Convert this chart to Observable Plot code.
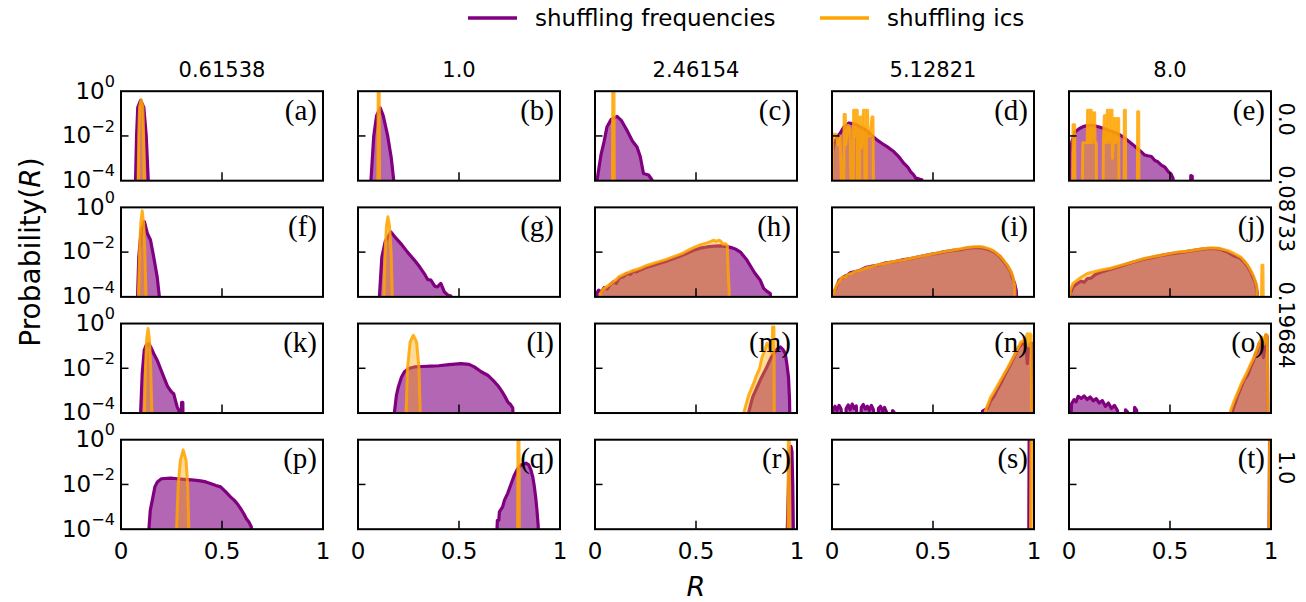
<!DOCTYPE html>
<html><head><meta charset="utf-8">
<script src="https://cdn.jsdelivr.net/npm/d3@7"></script>
<script src="https://cdn.jsdelivr.net/npm/@observablehq/plot@0.6"></script>
<style>
html,body{margin:0;padding:0;background:#fff;overflow:hidden;}
#wrap{position:relative;width:1306px;height:602px;font-family:"DejaVu Sans",sans-serif;}
#wrap svg{display:block;}
</style></head><body><div id="wrap"></div>
<script>
const colLabels = ["0.61538", "1.0", "2.46154", "5.12821", "8.0"];
const rowLabels = ["0.0", "0.08733", "0.19684", "1.0"];
const panelLetters = ["(a)","(b)","(c)","(d)","(e)","(f)","(g)","(h)","(i)","(j)","(k)","(l)","(m)","(n)","(o)","(p)","(q)","(r)","(s)","(t)"];
const xTicks = [0, 0.5, 1];
const yTicks = [1, 1e-2, 1e-4];
const seriesNames = ["shuffling frequencies", "shuffling ics"];
const seriesColors = ["#800080", "#FFA500"];

// [R, probability] pairs
const freq_a = [[0.068,1e-5],[0.072,1e-4],[0.077,1e-2],[0.083,0.19],[0.097,0.39],[0.113,0.19],[0.125,1e-2],[0.135,1e-4],[0.139,1e-5]];
const ics_a = [[0.082,1e-5],[0.085,1e-4],[0.088,1e-2],[0.092,0.2],[0.1,0.42],[0.108,0.2],[0.112,1e-2],[0.116,1e-4],[0.119,1e-5]];
const freq_b = [[0.06,1e-5],[0.064,1e-4],[0.078,1e-2],[0.092,0.08],[0.11,0.18],[0.125,0.08],[0.147,1e-2],[0.165,1e-3],[0.177,1e-4],[0.18,1e-5]];
const ics_b = [[0.098,1e-5],[0.1,1.5],[0.105,1.5],[0.107,1e-5]];
const freq_c = [[0.005,1e-5],[0.01,1e-4],[0.02,4e-4],[0.03,1.5e-3],[0.043,4.6e-3],[0.059,2.5e-2],[0.08,5.5e-2],[0.109,7.5e-2],[0.13,5e-2],[0.158,1.8e-2],[0.185,6e-3],[0.208,3.2e-3],[0.224,1.2e-3],[0.24,2.1e-4],[0.265,1.8e-4],[0.282,1.1e-4],[0.29,1e-5]];
const ics_c = [[0.086,1e-5],[0.088,1.5],[0.094,1.5],[0.096,1e-5]];
const freq_d = [[0.001,1e-5],[0.003,2e-3],[0.01,4.6e-3],[0.025,9e-3],[0.04,1.3e-2],[0.06,2.6e-2],[0.084,3.8e-2],[0.1,3.6e-2],[0.12,3.2e-2],[0.142,2.5e-2],[0.17,1.8e-2],[0.2,1e-2],[0.224,6.5e-3],[0.25,4.5e-3],[0.28,3e-3],[0.307,1.95e-3],[0.33,1.2e-3],[0.356,5.9e-4],[0.375,4e-4],[0.39,2.5e-4],[0.405,1.8e-4],[0.414,1.3e-4],[0.43,1.2e-4],[0.445,1.1e-4],[0.455,1e-5]];
const ics_d = [[0.0,1e-5],[0.004,1.2e-2],[0.02,1.2e-2],[0.03,4e-3],[0.04,1e-2],[0.05,1e-5],[0.058,1e-5],[0.06,0.09],[0.066,0.09],[0.068,4e-3],[0.08,3e-2],[0.09,2e-2],[0.095,1e-5],[0.105,1e-5],[0.107,0.14],[0.112,0.14],[0.114,1e-2],[0.12,0.14],[0.125,0.14],[0.127,1e-5],[0.135,1e-5],[0.137,0.07],[0.142,0.07],[0.146,3e-3],[0.156,0.14],[0.161,0.14],[0.164,1e-5],[0.169,1e-5],[0.171,0.14],[0.176,0.14],[0.179,1e-2],[0.19,1e-2],[0.198,0.07],[0.203,0.07],[0.206,1e-5]];
const freq_e = [[0.002,1e-5],[0.005,2e-3],[0.015,6e-3],[0.03,1.5e-2],[0.05,2.1e-2],[0.07,2.6e-2],[0.09,2.9e-2],[0.111,3e-2],[0.13,2.8e-2],[0.15,2.5e-2],[0.177,2.1e-2],[0.2,1.7e-2],[0.22,1.5e-2],[0.243,1.25e-2],[0.26,1e-2],[0.28,7.5e-3],[0.309,4.6e-3],[0.33,3.2e-3],[0.345,2.4e-3],[0.358,1.95e-3],[0.375,1.4e-3],[0.39,1.3e-3],[0.408,1.2e-3],[0.425,8e-4],[0.44,7e-4],[0.457,5e-4],[0.475,4e-4],[0.492,2.5e-4],[0.505,2e-4],[0.515,1.3e-4],[0.52,1e-5],[0.6,1e-5],[0.603,1.7e-4],[0.61,1.6e-4],[0.612,1e-5]];
const ics_e = [[0.018,1e-5],[0.02,0.032],[0.028,0.032],[0.03,1e-5],[0.065,1e-5],[0.068,5e-3],[0.09,5e-3],[0.092,0.14],[0.097,0.14],[0.099,5e-3],[0.105,0.14],[0.11,0.14],[0.112,5e-3],[0.122,0.11],[0.127,0.11],[0.129,5e-3],[0.135,5e-3],[0.137,1e-5],[0.168,1e-5],[0.17,5e-3],[0.175,0.08],[0.18,0.08],[0.182,5e-3],[0.19,0.14],[0.196,0.14],[0.198,5e-3],[0.207,0.14],[0.213,0.14],[0.215,1e-3],[0.223,0.06],[0.229,0.06],[0.231,5e-3],[0.24,0.06],[0.246,0.06],[0.248,1e-5],[0.272,1e-5],[0.274,0.14],[0.279,0.14],[0.281,1e-5],[0.338,1e-5],[0.34,0.12],[0.345,0.12],[0.347,1e-5]];
const freq_f = [[0.078,1e-5],[0.082,1e-4],[0.088,6e-3],[0.1,0.1],[0.116,0.23],[0.13,0.07],[0.146,0.035],[0.162,6e-3],[0.179,8e-4],[0.19,1e-4],[0.192,1e-5]];
const ics_f = [[0.083,1e-5],[0.086,1e-4],[0.092,1e-2],[0.098,0.2],[0.105,0.7],[0.112,0.2],[0.118,1e-2],[0.124,1e-4],[0.127,1e-5]];
const freq_g = [[0.1,1e-5],[0.106,1e-4],[0.118,6e-3],[0.135,3e-2],[0.163,8e-2],[0.19,4e-2],[0.212,2.4e-2],[0.245,1e-2],[0.279,4.4e-3],[0.305,2.2e-3],[0.328,1.1e-3],[0.345,6e-4],[0.361,5.6e-4],[0.38,3e-4],[0.393,2.8e-4],[0.41,4e-4],[0.427,1.7e-4],[0.445,1.2e-4],[0.46,1.1e-4],[0.465,1e-5]];
const ics_g = [[0.124,1e-5],[0.128,1e-4],[0.134,1e-2],[0.141,0.15],[0.148,0.38],[0.156,0.15],[0.164,1e-2],[0.17,1e-4],[0.174,1e-5]];
const freq_h = [[0.005,1e-5],[0.01,1.5e-4],[0.018,2e-4],[0.03,1.6e-4],[0.045,2.6e-4],[0.06,2.2e-4],[0.075,3.5e-4],[0.092,4.7e-4],[0.105,4e-4],[0.12,7e-4],[0.14,8e-4],[0.158,1.1e-3],[0.175,1e-3],[0.19,1.4e-3],[0.205,1.3e-3],[0.224,1.6e-3],[0.25,2e-3],[0.27,2.3e-3],[0.29,2.6e-3],[0.32,3.2e-3],[0.35,3.8e-3],[0.389,5.2e-3],[0.42,6.5e-3],[0.45,8.5e-3],[0.488,1.2e-2],[0.52,1.5e-2],[0.554,1.7e-2],[0.59,1.85e-2],[0.62,1.9e-2],[0.654,1.75e-2],[0.68,1.55e-2],[0.7,1.3e-2],[0.72,1e-2],[0.752,4.4e-3],[0.775,2e-3],[0.79,1.2e-3],[0.805,8e-4],[0.818,5.6e-4],[0.835,2.4e-4],[0.85,1.8e-4],[0.868,1.4e-4],[0.872,1e-5]];
const ics_h = [[0.02,1e-5],[0.026,1.4e-4],[0.04,2.2e-4],[0.06,3e-4],[0.08,4e-4],[0.1,5.5e-4],[0.12,8e-4],[0.15,1.1e-3],[0.18,1.4e-3],[0.224,1.9e-3],[0.26,2.6e-3],[0.3,3.4e-3],[0.35,4.6e-3],[0.389,6.3e-3],[0.43,8.5e-3],[0.46,1.2e-2],[0.488,1.6e-2],[0.52,2.1e-2],[0.554,2.6e-2],[0.57,2.9e-2],[0.587,3.4e-2],[0.6,3e-2],[0.615,3.4e-2],[0.625,2.9e-2],[0.635,2.2e-2],[0.645,2.4e-2],[0.655,2e-2],[0.66,1e-3],[0.664,2e-4],[0.667,1e-5]];
const freq_i = [[0.003,1e-5],[0.006,1.5e-4],[0.02,2.5e-4],[0.035,5.6e-4],[0.05,7e-4],[0.065,8.5e-4],[0.076,9.3e-4],[0.09,1.2e-3],[0.11,1.3e-3],[0.142,1.6e-3],[0.17,2.1e-3],[0.2,2.4e-3],[0.224,2.6e-3],[0.26,3.2e-3],[0.307,3.7e-3],[0.35,4.5e-3],[0.39,5.2e-3],[0.43,6.2e-3],[0.472,7.4e-3],[0.51,8.5e-3],[0.554,1.02e-2],[0.6,1.2e-2],[0.637,1.3e-2],[0.67,1.5e-2],[0.703,1.6e-2],[0.73,1.6e-2],[0.752,1.5e-2],[0.78,1.25e-2],[0.802,1.02e-2],[0.83,6.5e-3],[0.851,3.7e-3],[0.87,2.2e-3],[0.885,1.3e-3],[0.896,6e-4],[0.904,4e-4],[0.912,2e-4],[0.918,1e-5]];
const ics_i = [[0.003,1e-5],[0.006,1.3e-4],[0.02,3e-4],[0.035,5e-4],[0.05,7.5e-4],[0.065,8e-4],[0.08,1e-3],[0.1,1.15e-3],[0.12,1.4e-3],[0.142,1.55e-3],[0.17,2e-3],[0.2,2.3e-3],[0.224,2.7e-3],[0.26,3.1e-3],[0.307,3.8e-3],[0.35,4.4e-3],[0.39,5.3e-3],[0.43,6.3e-3],[0.472,7.5e-3],[0.51,8.8e-3],[0.554,1.05e-2],[0.6,1.25e-2],[0.637,1.4e-2],[0.67,1.6e-2],[0.703,1.75e-2],[0.73,1.8e-2],[0.752,1.65e-2],[0.78,1.4e-2],[0.802,1.1e-2],[0.83,7e-3],[0.851,4.2e-3],[0.87,2.5e-3],[0.885,1.4e-3],[0.896,8e-4],[0.905,3e-4],[0.91,1e-5]];
const freq_j = [[0.003,1e-5],[0.008,1.5e-4],[0.02,2.8e-4],[0.041,4e-4],[0.06,5e-4],[0.075,4.5e-4],[0.091,6.5e-4],[0.11,7e-4],[0.13,1e-3],[0.16,1.3e-3],[0.206,1.7e-3],[0.25,2.3e-3],[0.3,3.2e-3],[0.33,3.8e-3],[0.371,4.8e-3],[0.42,6e-3],[0.46,7.2e-3],[0.5,8.3e-3],[0.537,9.3e-3],[0.58,1.05e-2],[0.62,1.2e-2],[0.66,1.35e-2],[0.701,1.45e-2],[0.74,1.4e-2],[0.784,1.02e-2],[0.82,6.5e-3],[0.845,5.5e-3],[0.866,3.7e-3],[0.885,2.2e-3],[0.9,1.3e-3],[0.912,7e-4],[0.924,4e-4],[0.932,1.5e-4],[0.936,1e-5]];
const ics_j = [[0.003,1e-5],[0.006,2e-4],[0.02,4e-4],[0.041,5.6e-4],[0.06,7.5e-4],[0.091,1.1e-3],[0.12,1.3e-3],[0.16,1.6e-3],[0.206,1.9e-3],[0.25,2.5e-3],[0.3,3.3e-3],[0.371,5.2e-3],[0.42,6.4e-3],[0.46,7.5e-3],[0.5,8.8e-3],[0.537,1e-2],[0.58,1.1e-2],[0.62,1.25e-2],[0.66,1.4e-2],[0.701,1.55e-2],[0.74,1.5e-2],[0.784,1.2e-2],[0.82,8.5e-3],[0.85,6e-3],[0.866,4.2e-3],[0.885,2.6e-3],[0.9,1.5e-3],[0.915,8e-4],[0.93,3e-4],[0.938,1e-5],[0.952,1e-5],[0.955,2.6e-3],[0.96,2.6e-3],[0.963,1e-5]];
const freq_k = [[0.094,1e-5],[0.097,1e-4],[0.105,5.8e-3],[0.115,6.5e-2],[0.125,0.11],[0.138,0.126],[0.15,0.08],[0.165,4e-2],[0.179,2.3e-2],[0.195,1e-2],[0.212,4e-3],[0.23,1.6e-3],[0.245,1e-3],[0.255,8e-4],[0.261,7.4e-4],[0.27,3.5e-4],[0.278,1.9e-4],[0.29,1.1e-4],[0.295,1e-5],[0.3,3e-4],[0.306,3e-4],[0.308,1e-5]];
const ics_k = [[0.113,1e-5],[0.116,1e-4],[0.121,1e-2],[0.127,0.2],[0.134,0.6],[0.141,0.2],[0.147,1e-2],[0.153,1e-4],[0.157,1e-5]];
const freq_l = [[0.175,1e-5],[0.18,1e-4],[0.19,6e-4],[0.2,1.5e-3],[0.215,4e-3],[0.23,7e-3],[0.25,9.7e-3],[0.28,1.15e-2],[0.32,1.2e-2],[0.36,1.25e-2],[0.4,1.3e-2],[0.45,1.45e-2],[0.51,1.6e-2],[0.55,1.5e-2],[0.576,1.15e-2],[0.61,7e-3],[0.642,4.9e-3],[0.67,2.8e-3],[0.692,1.7e-3],[0.71,1e-3],[0.725,6e-4],[0.742,3.1e-4],[0.755,2.4e-4],[0.766,1.7e-4],[0.772,1e-5]];
const ics_l = [[0.234,1e-5],[0.238,1e-4],[0.245,1e-2],[0.258,0.15],[0.274,0.3],[0.29,0.15],[0.302,1e-2],[0.308,1e-4],[0.312,1e-5]];
const freq_m = [[0.755,1e-5],[0.76,1e-4],[0.78,5e-4],[0.802,1.4e-3],[0.825,4e-3],[0.851,1.15e-2],[0.87,2.8e-2],[0.884,4.6e-2],[0.9,7e-2],[0.917,9e-2],[0.93,7e-2],[0.942,4.6e-2],[0.95,1.5e-2],[0.958,4e-3],[0.963,4e-4],[0.966,1e-5]];
const ics_m = [[0.733,1e-5],[0.736,1e-4],[0.76,6e-4],[0.785,2.1e-3],[0.8,5e-3],[0.815,1e-2],[0.827,3.2e-2],[0.84,6e-2],[0.851,0.13],[0.86,0.1],[0.866,0.08],[0.872,0.05],[0.877,0.05],[0.879,0.7],[0.886,0.7],[0.888,1e-5]];
const freq_n = [[0.0,1e-5],[0.005,1.4e-4],[0.015,2e-4],[0.025,1.3e-4],[0.035,2.2e-4],[0.045,1.5e-4],[0.055,1e-5],[0.065,1e-5],[0.07,1.6e-4],[0.08,2.3e-4],[0.09,1.4e-4],[0.1,2.5e-4],[0.11,1.6e-4],[0.12,2.1e-4],[0.13,1e-5],[0.14,1e-5],[0.145,1.8e-4],[0.155,2.4e-4],[0.165,1.5e-4],[0.175,2e-4],[0.185,1.3e-4],[0.195,2.2e-4],[0.205,1.4e-4],[0.215,1e-5],[0.225,1e-5],[0.23,1.6e-4],[0.24,2e-4],[0.25,1.2e-4],[0.26,1.8e-4],[0.27,1.1e-4],[0.28,1e-5],[0.295,1e-5],[0.3,1.3e-4],[0.307,1.1e-4],[0.31,1e-5],[0.73,1e-5],[0.745,1.2e-4],[0.769,1.6e-4],[0.785,3.5e-4],[0.802,5.6e-4],[0.82,1.2e-3],[0.835,2.1e-3],[0.85,4e-3],[0.868,8.1e-3],[0.885,1.6e-2],[0.901,3.2e-2],[0.915,6e-2],[0.926,8.9e-2],[0.94,0.12],[0.95,0.15],[0.96,0.08],[0.967,1.6e-2],[0.975,0.1],[0.985,0.13],[0.993,0.13],[0.997,1e-5]];
const ics_n = [[0.74,1e-5],[0.76,1.3e-4],[0.785,5e-4],[0.802,9e-4],[0.835,3e-3],[0.868,1e-2],[0.901,3.6e-2],[0.92,8e-2],[0.935,0.15],[0.95,0.17],[0.96,0.22],[0.967,0.35],[0.972,0.1],[0.98,0.35],[0.986,0.3],[0.989,1e-5]];
const freq_o = [[0.008,1e-5],[0.012,2.5e-4],[0.025,4e-4],[0.035,3.2e-4],[0.045,5.6e-4],[0.06,4.5e-4],[0.075,5.8e-4],[0.09,4e-4],[0.105,5.2e-4],[0.12,3.5e-4],[0.135,4.4e-4],[0.15,2.8e-4],[0.165,3.6e-4],[0.18,2e-4],[0.195,2.8e-4],[0.21,1.6e-4],[0.225,2.2e-4],[0.24,1.3e-4],[0.25,1e-5],[0.27,1e-5],[0.28,1.4e-4],[0.29,1.1e-4],[0.3,1e-5],[0.32,1e-5],[0.325,1.8e-4],[0.335,1.3e-4],[0.34,1e-5],[0.795,1e-5],[0.81,1.3e-4],[0.834,5.6e-4],[0.85,1.3e-3],[0.866,2.9e-3],[0.885,5e-3],[0.9,1.2e-2],[0.912,2e-2],[0.924,4.6e-2],[0.932,6e-2],[0.941,0.125],[0.957,0.18],[0.962,0.03],[0.968,0.08],[0.975,0.3],[0.982,0.25],[0.985,1e-5]];
const ics_o = [[0.79,1e-5],[0.8,1.3e-4],[0.82,4e-4],[0.834,8e-4],[0.85,1.8e-3],[0.866,3.5e-3],[0.885,8e-3],[0.9,1.6e-2],[0.915,3e-2],[0.93,7e-2],[0.941,0.13],[0.95,0.2],[0.957,0.25],[0.965,0.12],[0.975,0.33],[0.982,0.3],[0.985,1e-5]];
const freq_p = [[0.134,1e-5],[0.138,1e-4],[0.145,7e-4],[0.155,2e-3],[0.168,8e-3],[0.18,1.3e-2],[0.2,1.8e-2],[0.245,1.9e-2],[0.28,1.8e-2],[0.311,1.7e-2],[0.35,1.6e-2],[0.394,1.45e-2],[0.42,1.3e-2],[0.443,1.1e-2],[0.47,9e-3],[0.493,7.8e-3],[0.515,5e-3],[0.542,2.8e-3],[0.56,2e-3],[0.575,1.4e-3],[0.59,9e-4],[0.608,4.9e-4],[0.62,3e-4],[0.633,2.1e-4],[0.645,1.3e-4],[0.652,1e-5]];
const ics_p = [[0.27,1e-5],[0.275,1e-4],[0.283,1e-2],[0.294,0.12],[0.308,0.35],[0.322,0.12],[0.33,1e-2],[0.336,1e-4],[0.34,1e-5]];
const freq_q = [[0.684,1e-5],[0.688,1e-4],[0.69,2.5e-4],[0.697,2.5e-4],[0.7,6e-4],[0.716,1e-3],[0.725,2e-3],[0.741,4e-3],[0.76,1.2e-2],[0.774,2.6e-2],[0.79,5e-2],[0.807,7.4e-2],[0.832,8.9e-2],[0.845,7.5e-2],[0.856,4.5e-2],[0.866,2e-2],[0.873,8e-3],[0.88,2.5e-3],[0.886,7e-4],[0.892,1.5e-4],[0.895,1e-5]];
const ics_q = [[0.79,1e-5],[0.792,1.5],[0.797,1.5],[0.799,1e-5]];
const freq_r = [[0.948,1e-5],[0.952,1e-4],[0.958,1e-2],[0.965,0.3],[0.97,0.5],[0.975,0.3],[0.979,1e-2],[0.982,1e-4],[0.985,1e-5]];
const ics_r = [[0.955,1e-5],[0.957,1.5],[0.962,1.5],[0.964,1e-5]];
const freq_s = [[0.974,1e-5],[0.976,1.2],[0.978,1.2],[0.98,1e-5]];
const ics_s = [[0.982,1e-5],[0.985,1.5],[0.998,1.5],[1.0,1e-5]];
const freq_t = [[0.99,1e-5],[0.993,1.2],[0.997,1.2],[0.999,1e-5]];
const ics_t = [[0.99,1e-5],[0.993,1.5],[0.999,1.5],[1.0,1e-5]];

const freqSeries = [freq_a,freq_b,freq_c,freq_d,freq_e,freq_f,freq_g,freq_h,freq_i,freq_j,freq_k,freq_l,freq_m,freq_n,freq_o,freq_p,freq_q,freq_r,freq_s,freq_t];
const icsSeries = [ics_a,ics_b,ics_c,ics_d,ics_e,ics_f,ics_g,ics_h,ics_i,ics_j,ics_k,ics_l,ics_m,ics_n,ics_o,ics_p,ics_q,ics_r,ics_s,ics_t];

const nCols = colLabels.length;
const cellOf = i => ({fx: colLabels[i % nCols], fy: rowLabels[Math.floor(i / nCols)]});
const toRows = series => series.flatMap((pts, i) => pts.map(([R, p]) => ({R, p, ...cellOf(i)})));
const freqRows = toRows(freqSeries);
const icsRows = toRows(icsSeries);
const panelRows = panelLetters.map((t, i) => ({text: t, ...cellOf(i)}));
const colTitleRows = colLabels.map(c => ({fx: c, fy: rowLabels[0], text: c}));
const rowTitleRows = rowLabels.map(r => ({fx: colLabels[nCols - 1], fy: r, text: r}));
const yMin = yTicks[yTicks.length - 1];

const supMap = {"-":"⁻","0":"⁰","1":"¹","2":"²","3":"³","4":"⁴","5":"⁵","6":"⁶","7":"⁷","8":"⁸","9":"⁹"};
const fmtY = d => "10" + String(Math.round(Math.log10(d))).split("").map(c => supMap[c]).join("");
const fmtX = d => String(d);

const W = 1306, LEG_H = 40, H = 602 - LEG_H;
const wrap = d3.select("#wrap");

// legend (above the chart)
const leg = wrap.append("svg").attr("width", W).attr("height", LEG_H)
  .attr("font-family", "DejaVu Sans").attr("font-size", 23);
const legX = [468, 820];
seriesNames.forEach((name, i) => {
  leg.append("line").attr("x1", legX[i]).attr("x2", legX[i] + 49).attr("y1", 18).attr("y2", 18)
    .attr("stroke", seriesColors[i]).attr("stroke-width", 3.5);
  leg.append("text").attr("x", legX[i] + 67).attr("y", 26).attr("fill", "black").text(name);
});

const chart = Plot.plot({
  width: W, height: H,
  marginTop: 50.7, marginBottom: 73.3, marginLeft: 120.5, marginRight: 35.5,
  style: {fontFamily: "DejaVu Sans", color: "black", background: "white"},
  x: {domain: [0, 1]},
  y: {type: "log", domain: [yMin, 1]},
  fx: {domain: colLabels, paddingInner: 0.1477, paddingOuter: 0, axis: null, round: false},
  fy: {domain: rowLabels, paddingInner: 0.2296, paddingOuter: 0, axis: null, round: false},
  marks: [
    Plot.areaY(freqRows, {x: "R", y1: () => yMin, y2: "p", fx: "fx", fy: "fy", fill: seriesColors[0], fillOpacity: 0.6, clip: true}),
    Plot.line(freqRows, {x: "R", y: "p", fx: "fx", fy: "fy", stroke: seriesColors[0], strokeWidth: 3.2, clip: true}),
    Plot.areaY(icsRows, {x: "R", y1: () => yMin, y2: "p", fx: "fx", fy: "fy", fill: seriesColors[1], fillOpacity: 0.4, clip: true}),
    Plot.line(icsRows, {x: "R", y: "p", fx: "fx", fy: "fy", stroke: seriesColors[1], strokeWidth: 3, strokeOpacity: 0.85, clip: true}),
    Plot.axisY(yTicks, {anchor: "left", tickSize: 0, tickPadding: 6, tickFormat: fmtY, fontSize: 23, label: null}),
    Plot.axisY([1e-2], {anchor: "left", tickSize: 8, dx: 8, tickFormat: () => "", facetAnchor: null, label: null, strokeWidth: 1.5}),
    Plot.axisX(xTicks, {anchor: "bottom", tickSize: 0, tickPadding: 13, tickFormat: fmtX, fontSize: 23, label: null}),
    Plot.axisX([0.5], {anchor: "bottom", tickSize: 8, dy: -8, tickFormat: () => "", facetAnchor: null, label: null, strokeWidth: 1.5}),
    Plot.frame({stroke: "black", strokeWidth: 2}),
    Plot.text(colTitleRows, {fx: "fx", fy: "fy", text: "text", frameAnchor: "top", dy: -20.7, lineAnchor: "middle", fontSize: 21}),
    Plot.text(rowTitleRows, {fx: "fx", fy: "fy", text: "text", frameAnchor: "right", dx: 15, rotate: 90, lineAnchor: "middle", fontSize: 21}),
    Plot.text(panelRows, {fx: "fx", fy: "fy", text: "text", frameAnchor: "top-right", dx: -6, dy: 8, lineAnchor: "top", textAnchor: "end", fontFamily: "Liberation Serif", fontSize: 29})
  ]
});
wrap.node().appendChild(chart);

// render y tick labels with true superscripts
const unsup = Object.fromEntries(Object.entries(supMap).map(([k, v]) => [v, k === "-" ? "−" : k]));
d3.select(chart).selectAll('g[aria-label="y-axis tick label"] text').each(function() {
  const s = this.textContent;
  if (!s || !s.startsWith("10")) return;
  const exp = s.slice(2).split("").map(c => unsup[c] ?? c).join("");
  const t = d3.select(this);
  t.text("");
  t.append("tspan").text("10");
  t.append("tspan").attr("font-size", "70%").attr("dy", "-0.72em").text(exp);
});

// axis titles
const svg = d3.select(chart);
const ylab = svg.append("text").attr("transform", "translate(30,212) rotate(-90)")
  .attr("text-anchor", "middle").attr("dy", "0.35em").attr("font-size", 28)
  .attr("font-family", "DejaVu Sans").attr("fill", "black");
ylab.append("tspan").text("Probability(");
ylab.append("tspan").attr("font-style", "italic").text("R");
ylab.append("tspan").text(")");
svg.append("text").attr("x", 696).attr("y", 547).attr("dy", "0.35em").attr("text-anchor", "middle")
  .attr("font-size", 27).attr("font-style", "italic").attr("font-family", "DejaVu Sans").attr("fill", "black").text("R");
</script></body></html>
